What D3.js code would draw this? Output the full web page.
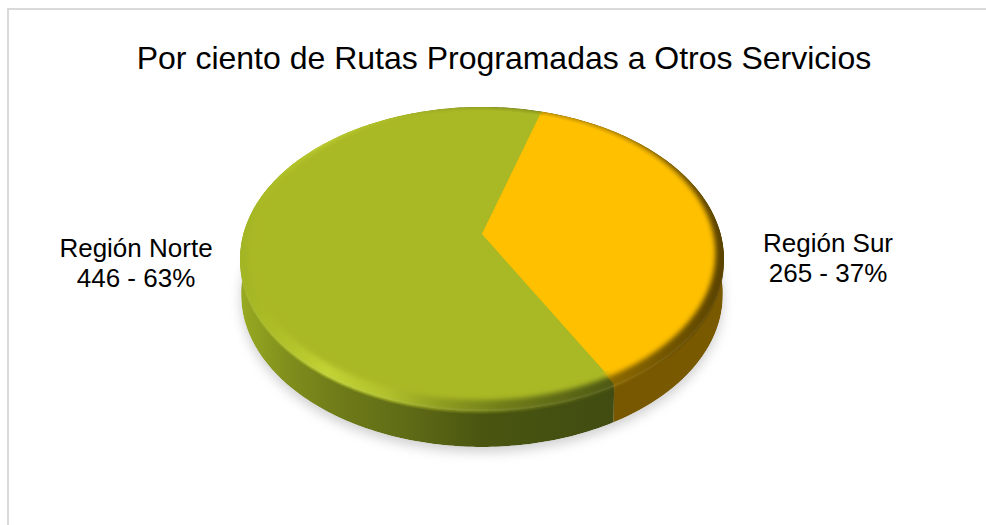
<!DOCTYPE html>
<html>
<head>
<meta charset="utf-8">
<script src="https://cdn.jsdelivr.net/npm/d3@7"></script>
<style>
  html, body { margin: 0; padding: 0; background: #fff; }
  svg { display: block; }
  text { font-family: "Liberation Sans", Arial, sans-serif; fill: #000; }
</style>
</head>
<body>
<div id="chart"></div>
<script>
// Pie of routes per region, tilted disc look
var titleText = "Por ciento de Rutas Programadas a Otros Servicios";
var regions = ["Región Norte", "Región Sur"];
var routes = [446, 265];
var percents = [63, 37];
var colors = ["#a9b825", "#ffc000"];

var width = 986, height = 525;
var cx = 482, cy = 238;      // apex of the pie on screen
var depth = 36;
var firstAngle = 151 * Math.PI / 180;

// perspective of the disc: near side is bigger than the far side
var k = 0.138, sx = 239.7, sy = 149.1;
function project(angle, r) {
  var x = r * Math.sin(angle), y = -r * Math.cos(angle);
  var w = 1 - k * y;
  return [cx + sx * x / w, cy + sy * y / w];
}

var svg = d3.select("#chart").append("svg")
  .attr("width", width)
  .attr("height", height);
var defs = svg.append("defs");

function blur(id, dev) {
  defs.append("filter").attr("id", id)
    .attr("color-interpolation-filters", "sRGB")
    .attr("x", "-10%").attr("y", "-10%").attr("width", "120%").attr("height", "120%")
    .append("feGaussianBlur").attr("stdDeviation", dev);
}
blur("soft", 2.6);
blur("shadow", 6);

function gradient(id, stops) {
  var g = defs.append("linearGradient").attr("id", id)
    .attr("gradientUnits", "userSpaceOnUse")
    .attr("x1", 240).attr("x2", 724).attr("y1", 0).attr("y2", 0);
  stops.forEach(function (s) {
    g.append("stop").attr("offset", s[0]).attr("stop-color", s[1]);
  });
}
gradient("sideNorte", [[0, "#99aa22"], [0.1, "#7f8e1c"], [0.2, "#6f7c19"], [0.34, "#606c16"],
  [0.5, "#4a5510"], [0.6, "#465210"], [0.77, "#414c12"]]);
gradient("sideSur", [[0, "#6d5000"], [1, "#7a5a00"]]);
gradient("rimNorte", [[0, "#a3b424"], [0.08, "#aebf28"], [0.18, "#c2d334"], [0.3, "#b2c22c"],
  [0.42, "#8e9c20"], [0.55, "#6f7c19"], [0.77, "#4f5a14"]]);
gradient("rimSur", [[0.75, "#8f6b00"], [1, "#5a4300"]]);

var pie = d3.pie().sort(null)
  .startAngle(firstAngle)
  .endAngle(firstAngle + 2 * Math.PI);
var slices = pie(routes);

var line = d3.line();
var step = Math.PI / 180;

function arcPoints(a0, a1, r, dy) {
  var pts = d3.range(a0, a1, step).concat([a1]);
  return pts.map(function (a) {
    var p = project(a, r);
    return [cx + (p[0] - cx) * (dy ? 0.995 : 1), p[1] + (dy || 0)];
  });
}
function sector(d, r, dy) {
  return line([[cx, cy + (dy || 0)]].concat(arcPoints(d.startAngle, d.endAngle, r, 0).map(function (p) {
    return [p[0], p[1] + (dy || 0)];
  }))) + "Z";
}
function band(d) {
  var top = arcPoints(d.startAngle, d.endAngle, 1, 0);
  var bottom = arcPoints(d.startAngle, d.endAngle, 1, depth).reverse();
  return line(top.concat(bottom)) + "Z";
}

// frame, only top and left show
svg.append("path")
  .attr("d", "M8,525V9H986")
  .attr("fill", "none")
  .attr("stroke", "#d9d9d9")
  .attr("stroke-width", 2);

// soft shadow under the disc
svg.append("path")
  .attr("d", line(arcPoints(0, 2 * Math.PI, 1, depth + 5)) + "Z")
  .attr("fill", "#bfbfbf")
  .attr("opacity", 0.75)
  .attr("filter", "url(#shadow)");

var sideIds = ["sideNorte", "sideSur"];
var rimIds = ["rimNorte", "rimSur"];
function rimFill(d, i) { return "url(#" + rimIds[i] + ")"; }

// whole silhouette as one polygon
var turn = 100 * Math.PI / 180;
var silhouette = arcPoints(-turn, turn, 1, 0)
  .concat(arcPoints(turn, 2 * Math.PI - turn, 1, depth));
defs.append("clipPath").attr("id", "disc")
  .append("path").attr("d", line(silhouette) + "Z");
var disc = svg.append("g").attr("clip-path", "url(#disc)");

// side wall
disc.append("g").selectAll("path").data(slices).enter().append("path")
  .attr("d", band)
  .attr("fill", function (d, i) { return "url(#" + sideIds[i] + ")"; });

// rim: stacked copies fade the near edge into the wall, no filter here
var rimSteps = [[3, 0.25], [2, 0.35], [1, 0.5], [0, 0.7], [-2, 1]];
rimSteps.forEach(function (s) {
  disc.append("g").attr("opacity", s[1])
    .selectAll("path").data(slices).enter().append("path")
    .attr("d", function (d) { return sector(d, 1, s[0]); })
    .attr("fill", rimFill);
});

// face blurred over the rim, then sharp slices on top
disc.append("g").attr("filter", "url(#soft)")
  .selectAll("path").data(slices).enter().append("path")
  .attr("d", function (d) { return sector(d, 0.965, -4); })
  .attr("fill", function (d, i) { return colors[i]; });
disc.append("g").selectAll("path").data(slices).enter().append("path")
  .attr("d", function (d) { return sector(d, 0.935, -4); })
  .attr("fill", function (d, i) { return colors[i]; });

// texts
svg.append("text")
  .attr("x", 504).attr("y", 69)
  .attr("text-anchor", "middle")
  .style("font-size", "32px")
  .text(titleText);

var labelX = [136, 828], labelY = [257, 252];
regions.forEach(function (name, i) {
  var t = svg.append("text")
    .attr("text-anchor", "middle")
    .style("font-size", "26px");
  t.append("tspan").attr("x", labelX[i]).attr("y", labelY[i]).text(name);
  t.append("tspan").attr("x", labelX[i]).attr("y", labelY[i] + 30)
    .text(routes[i] + " - " + percents[i] + "%");
});
</script>
</body>
</html>
